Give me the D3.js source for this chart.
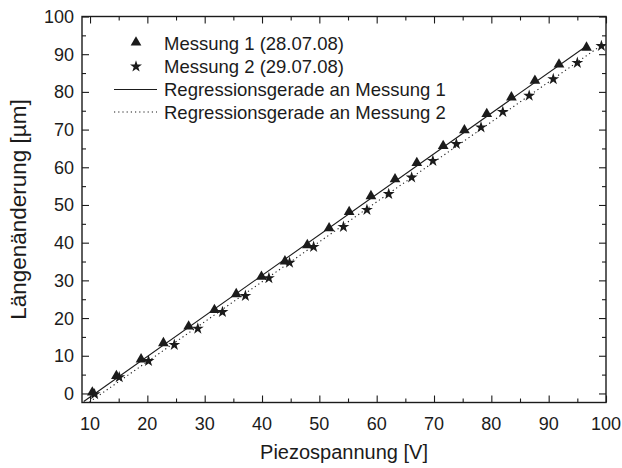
<!DOCTYPE html>
<html>
<head>
<meta charset="utf-8">
<script src="https://cdn.jsdelivr.net/npm/d3@7"></script>
<style>
  body { margin: 0; background: #fff; }
  svg { display: block; font-family: "Liberation Sans", Arial, sans-serif; }
</style>
</head>
<body>
<svg id="chart" width="622" height="468"></svg>
<script>
// Messung 1 (28.07.08)
const voltage1 = [10.4, 14.6, 18.9, 22.8, 27.2, 31.7, 35.5, 39.9, 44.0, 47.9, 51.7, 55.2, 59.0, 63.2, 67.0, 71.6, 75.3, 79.2, 83.5, 87.6, 91.8, 96.6];
const length1  = [0.0, 4.4, 8.8, 13.1, 17.5, 21.9, 26.1, 30.7, 34.8, 39.1, 43.6, 47.9, 52.1, 56.6, 60.9, 65.4, 69.6, 73.9, 78.3, 82.7, 87.0, 91.5];
// Messung 2 (29.07.08)
const voltage2 = [10.8, 15.1, 20.2, 24.7, 28.8, 33.1, 37.1, 41.2, 44.8, 49.0, 54.2, 58.3, 62.1, 66.1, 69.8, 73.9, 78.2, 82.0, 86.6, 90.8, 95.0, 99.2];
const length2  = [-0.2, 4.3, 8.6, 12.9, 17.2, 21.6, 25.9, 30.6, 34.7, 38.9, 44.2, 48.7, 52.9, 57.3, 61.7, 66.2, 70.6, 74.7, 79.0, 83.4, 87.7, 92.2];

const xTicks = [10, 20, 30, 40, 50, 60, 70, 80, 90, 100];
const yTicks = [0, 10, 20, 30, 40, 50, 60, 70, 80, 90, 100];
const legendLabels = ["Messung 1 (28.07.08)", "Messung 2 (29.07.08)",
                      "Regressionsgerade an Messung 1", "Regressionsgerade an Messung 2"];

const svg = d3.select("#chart");
const pL = 82, pR = 606, pT = 16.5, pB = 402.5;
const ink = "#1b1b1b";

const x = d3.scaleLinear().domain([8.6, 100]).range([pL, pR]);
const y = d3.scaleLinear().domain([-2.4, 100]).range([pB, pT]);

// least-squares straight line
function fit(xs, ys) {
  const mx = d3.mean(xs), my = d3.mean(ys);
  let sxy = 0, sxx = 0;
  xs.forEach((v, i) => { sxy += (v - mx) * (ys[i] - my); sxx += (v - mx) * (v - mx); });
  const b = sxy / sxx;
  return { b, a: my - b * mx };
}

svg.append("defs").append("clipPath").attr("id", "plot")
  .append("rect").attr("x", pL).attr("y", pT).attr("width", pR - pL).attr("height", pB - pT);

const plot = svg.append("g").attr("clip-path", "url(#plot)");

function drawFit(xs, ys, dash) {
  const f = fit(xs, ys);
  const x0 = d3.min(xs) - 1.5, x1 = d3.max(xs);
  plot.append("line")
    .attr("x1", x(x0)).attr("y1", y(f.a + f.b * x0))
    .attr("x2", x(x1)).attr("y2", y(f.a + f.b * x1))
    .attr("stroke", ink).attr("stroke-width", 1.1)
    .attr("stroke-dasharray", dash);
}
drawFit(voltage1, length1, null);
drawFit(voltage2, length2, "1.2,3");

const tri = d3.symbol().type(d3.symbolTriangle).size(50);
const star = d3.symbol().type(d3.symbolStar).size(44);

plot.append("g").selectAll("path").data(voltage2).join("path")
  .attr("d", star)
  .attr("transform", (d, i) => `translate(${x(d)},${y(length2[i])})`)
  .attr("fill", ink);
plot.append("g").selectAll("path").data(voltage1).join("path")
  .attr("d", tri)
  .attr("transform", (d, i) => `translate(${x(d)},${y(length1[i]) - 1})`)
  .attr("fill", ink);

// axes with inward ticks on all four sides
const xMinor = d3.range(15, 100, 10);
const yMinor = d3.range(5, 100, 10);
function ticks(axisGen, g, values, size) {
  g.call(axisGen.tickValues(values).tickSize(size).tickFormat(""));
  g.select(".domain").remove();
  g.selectAll("line").attr("stroke", ink).attr("stroke-width", 1.1);
}
const frame = svg.append("g");
ticks(d3.axisTop(x), frame.append("g").attr("transform", `translate(0,${pB})`), xTicks, 7);
ticks(d3.axisTop(x), frame.append("g").attr("transform", `translate(0,${pB})`), xMinor, 4);
ticks(d3.axisBottom(x), frame.append("g").attr("transform", `translate(0,${pT})`), xTicks, 7);
ticks(d3.axisBottom(x), frame.append("g").attr("transform", `translate(0,${pT})`), xMinor, 4);
ticks(d3.axisRight(y), frame.append("g").attr("transform", `translate(${pL},0)`), yTicks, 7);
ticks(d3.axisRight(y), frame.append("g").attr("transform", `translate(${pL},0)`), yMinor, 4);
ticks(d3.axisLeft(y), frame.append("g").attr("transform", `translate(${pR},0)`), yTicks, 7);
ticks(d3.axisLeft(y), frame.append("g").attr("transform", `translate(${pR},0)`), yMinor, 4);

frame.append("rect").attr("x", pL).attr("y", pT)
  .attr("width", pR - pL).attr("height", pB - pT)
  .attr("fill", "none").attr("stroke", ink).attr("stroke-width", 1.4);

// tick labels
svg.append("g").selectAll("text").data(xTicks).join("text")
  .attr("x", d => x(d)).attr("y", 430)
  .attr("text-anchor", "middle").attr("font-size", 18).attr("fill", ink)
  .text(d => d);
svg.append("g").selectAll("text").data(yTicks).join("text")
  .attr("x", 74).attr("y", d => y(d) + 6.5)
  .attr("text-anchor", "end").attr("font-size", 18).attr("fill", ink)
  .text(d => d);

// axis titles
svg.append("text").attr("x", (pL + pR) / 2).attr("y", 459)
  .attr("text-anchor", "middle").attr("font-size", 20).attr("fill", ink)
  .text("Piezospannung [V]");
svg.append("text")
  .attr("transform", `translate(26,${(pT + pB) / 2}) rotate(-90)`)
  .attr("text-anchor", "middle").attr("font-size", 22.5).attr("fill", ink)
  .text("Längenänderung [µm]");

// legend
const lg = svg.append("g");
const rowY = [43.5, 66.5, 89.5, 112];
lg.append("path").attr("d", tri).attr("transform", `translate(136,${rowY[0] - 1})`).attr("fill", ink);
lg.append("path").attr("d", star).attr("transform", `translate(136,${rowY[1]})`).attr("fill", ink);
lg.append("line").attr("x1", 114).attr("x2", 157).attr("y1", rowY[2]).attr("y2", rowY[2])
  .attr("stroke", ink).attr("stroke-width", 1.1);
lg.append("line").attr("x1", 114).attr("x2", 157).attr("y1", rowY[3]).attr("y2", rowY[3])
  .attr("stroke", ink).attr("stroke-width", 1.1).attr("stroke-dasharray", "1.2,3");
lg.selectAll("text").data(legendLabels).join("text")
  .attr("x", 164).attr("y", (d, i) => rowY[i] + 6.5)
  .attr("font-size", 18.5).attr("fill", ink)
  .text(d => d);
</script>
</body>
</html>
